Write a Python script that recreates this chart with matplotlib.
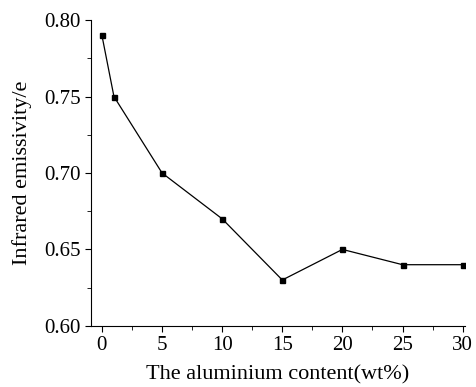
import matplotlib.pyplot as plt
from matplotlib.ticker import MultipleLocator

# Aluminium content (wt%) and infrared emissivity
al_content = [0, 1, 5, 10, 15, 20, 25, 30]
emissivity = [0.79, 0.75, 0.70, 0.67, 0.63, 0.65, 0.64, 0.64]

x_ticks = [0, 5, 10, 15, 20, 25, 30]
y_ticks = [0.60, 0.65, 0.70, 0.75, 0.80]

plt.rcParams['font.family'] = ['Liberation Serif', 'DejaVu Serif']

fig = plt.figure(figsize=(4.77, 3.87), dpi=100)
ax = fig.add_axes([0.191, 0.158, 0.784, 0.79])

ax.plot(al_content, emissivity, color='black', linewidth=0.9,
        marker='s', markersize=3.6, markerfacecolor='black')

ax.set_xlim(-0.9, 30.2)
ax.set_ylim(0.60, 0.80)
ax.set_xticks(x_ticks)
ax.set_yticks(y_ticks)
ax.set_yticklabels([f'{v:.2f}' for v in y_ticks])
ax.xaxis.set_minor_locator(MultipleLocator(2.5))
ax.yaxis.set_minor_locator(MultipleLocator(0.025))

ax.spines['top'].set_visible(False)
ax.spines['right'].set_visible(False)
ax.tick_params(which='both', direction='out', labelsize=15)
ax.tick_params(which='major', length=4.5, pad=3)
ax.tick_params(which='minor', length=3)

ax.set_xlabel('The aluminium content(wt%)', fontsize=16, labelpad=7)
ax.set_ylabel('Infrared emissivity/e', fontsize=16, labelpad=9)

fig.savefig('out.png', dpi=100)
